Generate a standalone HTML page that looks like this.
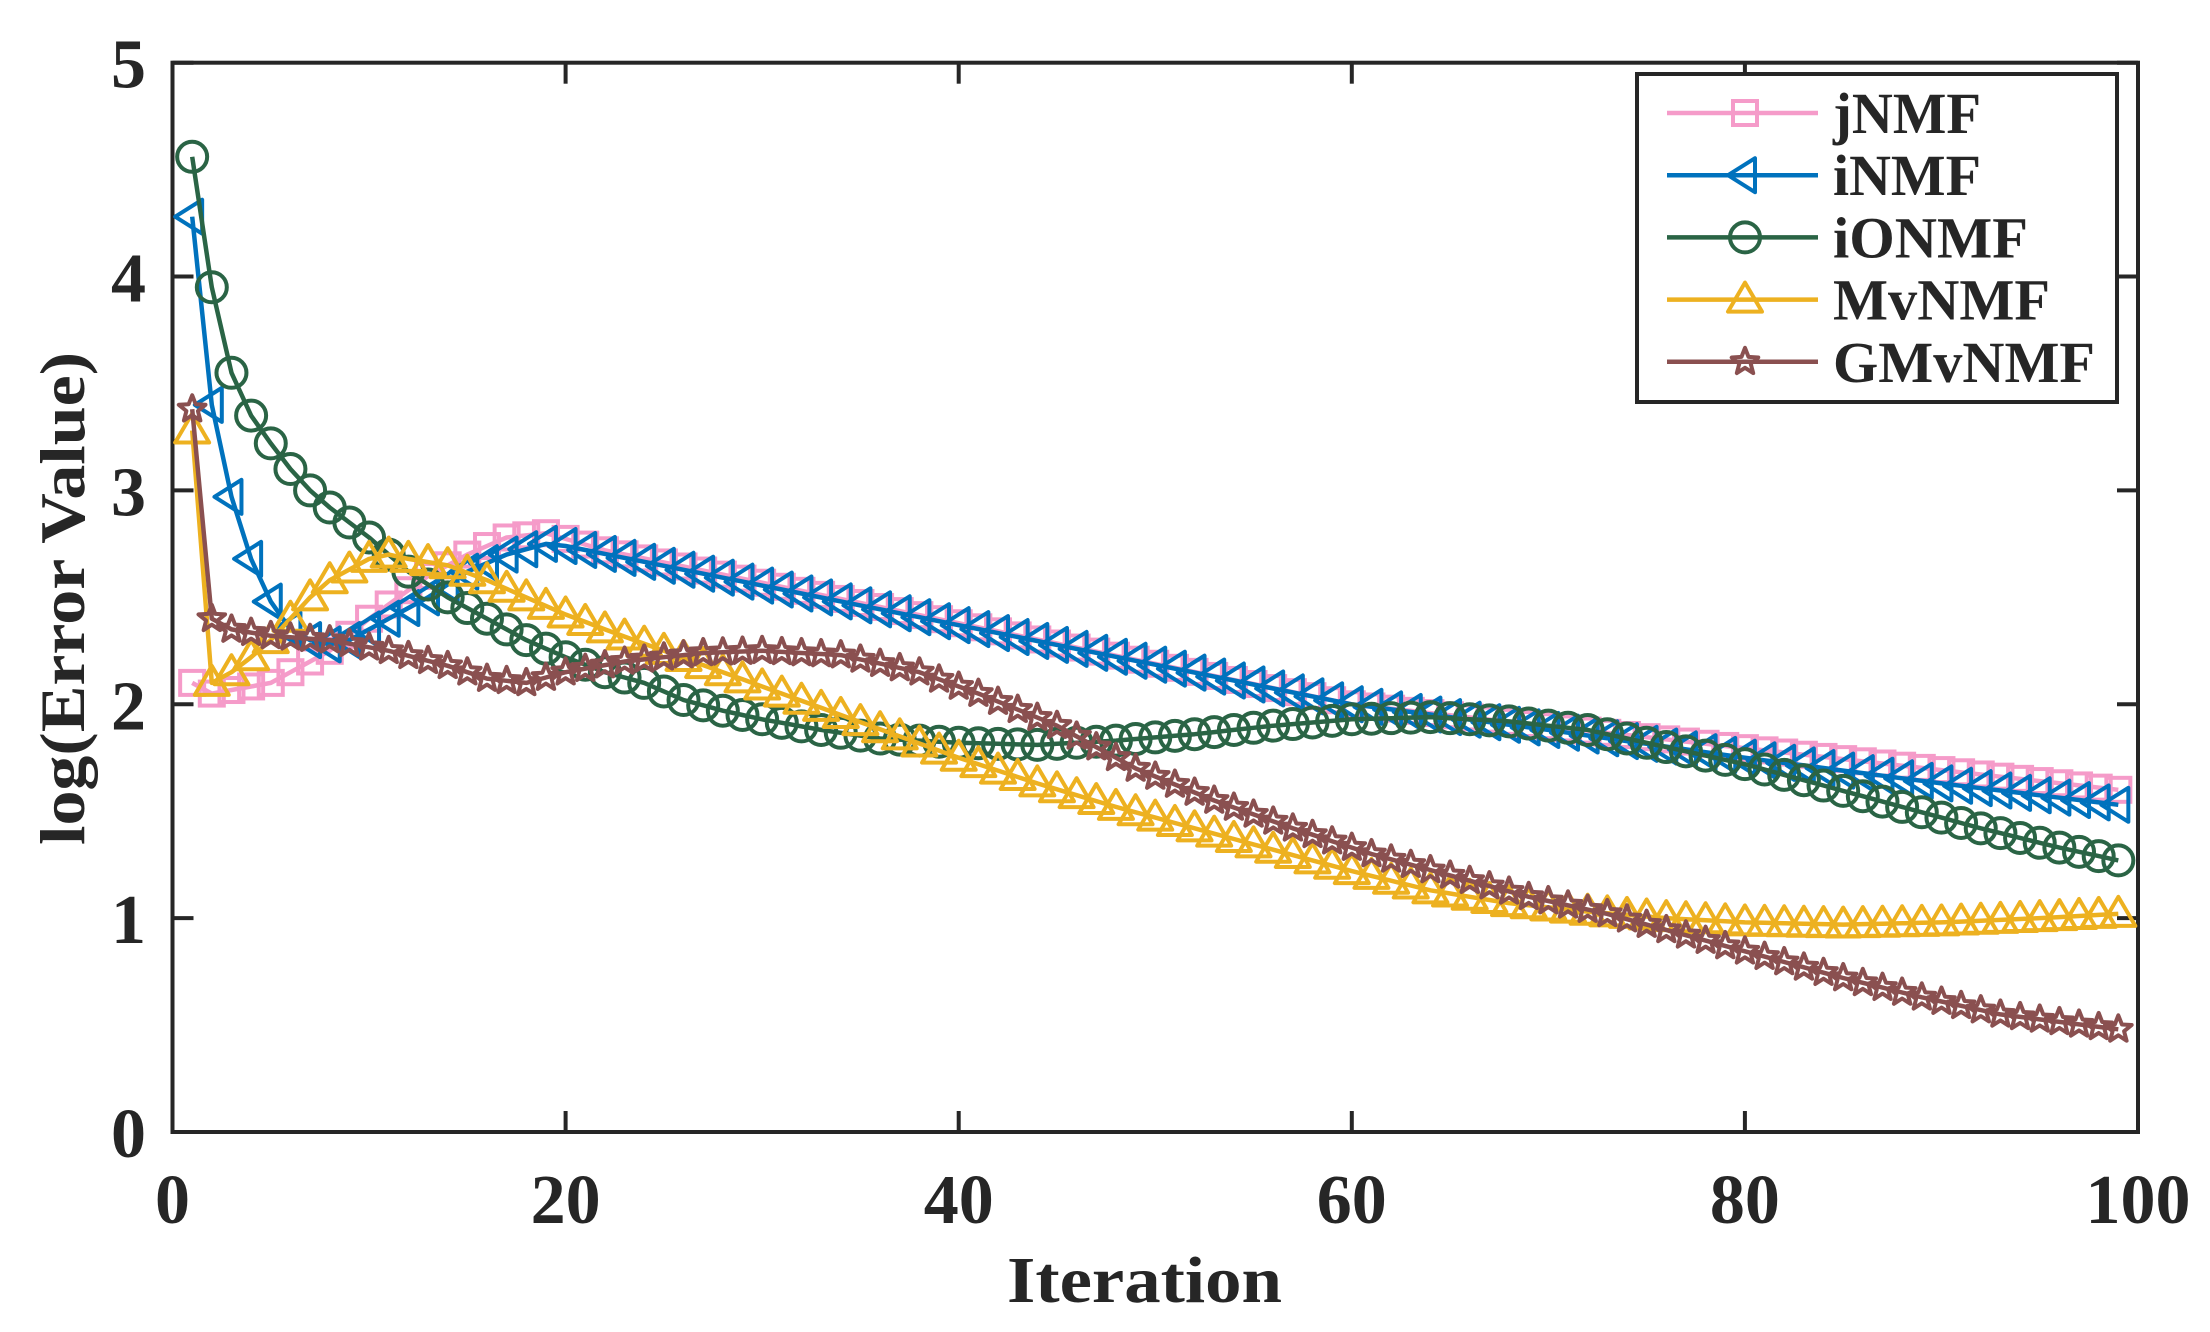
<!DOCTYPE html>
<html><head><meta charset="utf-8"><style>
html,body{margin:0;padding:0;background:#fff;}
svg{display:block;}
text{font-family:"Liberation Serif",serif;font-weight:bold;fill:#262626;}
</style></head><body>
<svg id="s" width="2210" height="1332" viewBox="0 0 2210 1332" xmlns="http://www.w3.org/2000/svg"></svg>
<script>
const L=172.5,R=2138,T=62.7,B=1132;
const X=v=>L+(R-L)*v/100, Y=v=>B-(B-T)*v/5;
const series=[
 {c:'#F59BC9',m:'sq',k:[[1,2.1],[2,2.05],[5,2.1],[8,2.25],[10,2.4],[13,2.6],[15,2.7],[17,2.78],[19,2.8],[22,2.72],[60,2.0],[99,1.6]]},
 {c:'#0072BD',m:'tri',k:[[1,4.28],[2,3.4],[3,2.97],[4,2.68],[5,2.48],[6,2.35],[7,2.3],[8,2.28],[9,2.3],[10,2.35],[11,2.4],[13,2.5],[15,2.62],[17,2.7],[19,2.75],[20,2.74],[60,2.0],[70,1.88],[80,1.75],[90,1.63],[99,1.53]]},
 {c:'#2A6445',m:'ci',k:[[1,4.56],[2,3.95],[3,3.55],[4,3.35],[5,3.22],[6,3.1],[7,3.0],[8,2.92],[9,2.85],[10,2.78],[11,2.7],[12,2.62],[14,2.5],[16,2.4],[18,2.3],[20,2.22],[22,2.15],[24,2.1],[26,2.02],[28,1.97],[30,1.93],[33,1.88],[36,1.84],[40,1.82],[44,1.81],[48,1.83],[52,1.86],[56,1.9],[60,1.93],[64,1.94],[68,1.92],[72,1.88],[76,1.8],[80,1.72],[84,1.62],[88,1.52],[92,1.42],[96,1.33],[99,1.27]]},
 {c:'#EDB120',m:'up',k:[[1,3.28],[2,2.1],[3,2.15],[4,2.22],[5,2.3],[6,2.4],[7,2.5],[8,2.58],[9,2.63],[10,2.68],[11,2.7],[12,2.68],[14,2.65],[16,2.58],[18,2.5],[20,2.42],[22,2.35],[25,2.25],[28,2.15],[31,2.05],[34,1.95],[37,1.85],[40,1.75],[44,1.63],[48,1.52],[52,1.42],[56,1.32],[60,1.22],[64,1.13],[68,1.07],[72,1.03],[76,1.0],[80,0.98],[85,0.97],[90,0.98],[95,1.0],[99,1.02]]},
 {c:'#8A5050',m:'st',k:[[1,3.38],[2,2.4],[3,2.35],[5,2.32],[8,2.3],[11,2.25],[14,2.18],[16,2.12],[18,2.1],[20,2.15],[23,2.2],[27,2.24],[30,2.25],[34,2.23],[38,2.15],[41,2.05],[45,1.9],[49,1.7],[53,1.55],[57,1.42],[61,1.3],[65,1.2],[69,1.1],[73,1.02],[77,0.92],[81,0.82],[85,0.72],[89,0.63],[93,0.55],[99,0.48]]}
];
function interp(k,x){for(let i=0;i<k.length-1;i++){if(x>=k[i][0]&&x<=k[i+1][0]){const t=(x-k[i][0])/(k[i+1][0]-k[i][0]);return k[i][1]+t*(k[i+1][1]-k[i][1]);}}return k[k.length-1][1];}
function marker(m,x,y,c){
 const sw='fill="none" stroke="'+c+'" stroke-width="4"';
 if(m==='sq')return `<rect x="${x-12}" y="${y-12}" width="24" height="24" ${sw}/>`;
 if(m==='ci')return `<circle cx="${x}" cy="${y}" r="15" ${sw}/>`;
 if(m==='tri')return `<polygon points="${x-17},${y} ${x+10},${y-17} ${x+10},${y+17}" ${sw} stroke-linejoin="round"/>`;
 if(m==='up')return `<polygon points="${x},${y-17} ${x-17},${y+12} ${x+17},${y+12}" ${sw} stroke-linejoin="round"/>`;
 if(m==='st'){let p=[];for(let i=0;i<10;i++){const r=i%2?6:14,a=-Math.PI/2+i*Math.PI/5;p.push((x+r*Math.cos(a)).toFixed(1)+','+(y+r*Math.sin(a)).toFixed(1));}return `<polygon points="${p.join(' ')}" ${sw} stroke-linejoin="round"/>`;}
}
let h='';
h+=`<rect x="${L}" y="${T}" width="${R-L}" height="${B-T}" fill="#fff" stroke="#262626" stroke-width="4"/>`;
for(let v=0;v<=100;v+=20){const x=X(v);h+=`<line x1="${x}" y1="${B}" x2="${x}" y2="${B-21}" stroke="#262626" stroke-width="4"/><line x1="${x}" y1="${T}" x2="${x}" y2="${T+21}" stroke="#262626" stroke-width="4"/>`;
 h+=`<text x="${x}" y="1223" font-size="70" text-anchor="middle">${v}</text>`;}
for(let v=0;v<=5;v++){const y=Y(v);h+=`<line x1="${L}" y1="${y}" x2="${L+21}" y2="${y}" stroke="#262626" stroke-width="4"/><line x1="${R}" y1="${y}" x2="${R-21}" y2="${y}" stroke="#262626" stroke-width="4"/>`;
 h+=`<text x="146" y="${y+25}" font-size="70" text-anchor="end">${v}</text>`;}
for(const s of series){let pts=[],mk='';for(let i=1;i<=99;i++){const x=X(i),y=Y(interp(s.k,i));pts.push(x.toFixed(1)+','+y.toFixed(1));mk+=marker(s.m,x,y,s.c);}
 h+=`<polyline points="${pts.join(' ')}" fill="none" stroke="${s.c}" stroke-width="4.5" stroke-linejoin="round"/>`+mk;}
h+=`<text x="1007" y="1302" font-size="66" textLength="275" lengthAdjust="spacingAndGlyphs">Iteration</text>`;
h+=`<text transform="translate(84,845) rotate(-90)" font-size="64" textLength="493" lengthAdjust="spacingAndGlyphs">log(Error Value)</text>`;
h+=`<rect x="1637" y="74" width="480" height="328" fill="#fff" stroke="#262626" stroke-width="4"/>`;
const names=['jNMF','iNMF','iONMF','MvNMF','GMvNMF'], lens=[148,148,195,217,262];
names.forEach((n,i)=>{const y=113+i*62.2,s=series[i];h+=`<line x1="1667" y1="${y}" x2="1818" y2="${y}" stroke="${s.c}" stroke-width="4.5"/>`+marker(s.m,1745,y,s.c)+`<text x="1833" y="${y+20}" font-size="58" fill="#000" textLength="${lens[i]}" lengthAdjust="spacingAndGlyphs">${n}</text>`;});
document.getElementById('s').innerHTML=h;
</script>
</body></html>
